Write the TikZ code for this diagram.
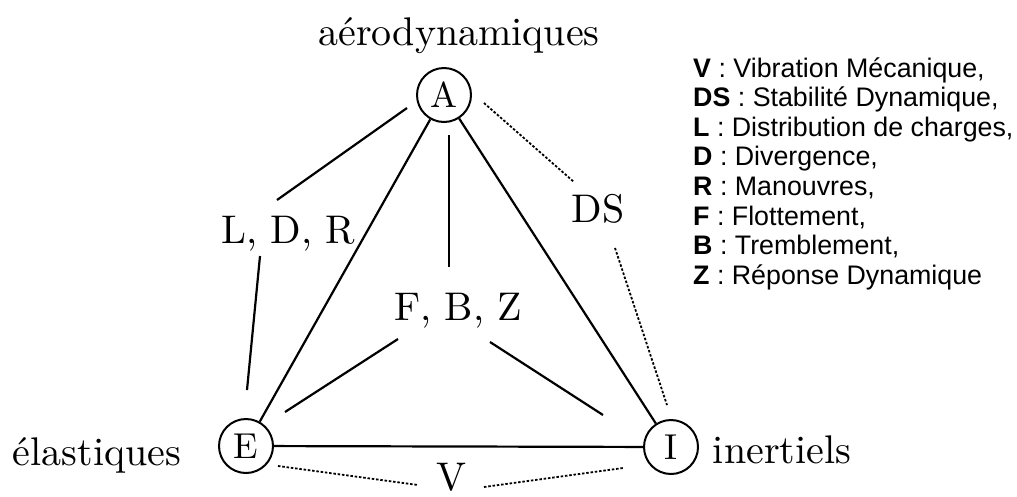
\documentclass[tikz,border=0pt]{standalone}
\usepackage{fontspec}
\usepackage{graphicx}
\newfontfamily\legfont{Liberation Sans}
\newcommand\bigtxt[2][4]{\scalebox{#1}{\fontsize{10}{12}\selectfont #2}}
\begin{document}
\begin{tikzpicture}[x=1pt,y=-1pt,
  circ/.style={draw, circle, minimum size=54pt, inner sep=0pt, line width=2pt},
  lbl/.style={inner sep=0pt, anchor=base},
  leg/.style={inner sep=0pt, anchor=base west, font=\legfont\fontsize{26.8}{30}\selectfont},
  conn/.style={line width=2.2pt},
  dot/.style={line width=1.8pt, dash pattern=on 2.5pt off 1.8pt}]
\useasboundingbox (0,0) rectangle (1017,496);
% main nodes
\node[circ] (A) at (444,95) {\bigtxt[3.6]{A}};
\node[circ] (E) at (246,446) {\bigtxt[3.6]{E}};
\node[circ] (I) at (671,447) {\bigtxt[3.6]{I}};
% labels
\node[lbl] (aero) at (459,45) {\bigtxt{aérodynamiques}};
\node[lbl] (elas) at (97,465) {\bigtxt{élastiques}};
\node[lbl] (iner) at (782,463) {\bigtxt{inertiels}};
\node[lbl] (ldr) at (288,243) {\bigtxt{L, D, R}};
\node[lbl] (fbz) at (458,320) {\bigtxt{F, B, Z}};
\node[lbl] (ds) at (598,222) {\bigtxt{DS}};
\node[lbl] (v) at (451,490) {\bigtxt{V}};
% connector end points
\coordinate (A-ldr) at (407,108); \coordinate (ldr-A) at (277,200);
\coordinate (ldr-E) at (260,256); \coordinate (E-ldr) at (247,390);
\coordinate (A-fbz) at (449,135); \coordinate (fbz-A) at (449,267);
\coordinate (fbz-E) at (398,339); \coordinate (E-fbz) at (285,412);
\coordinate (fbz-I) at (490,342); \coordinate (I-fbz) at (603,415);
\coordinate (A-ds) at (484,103); \coordinate (ds-A) at (574,182);
\coordinate (ds-I) at (615,248); \coordinate (I-ds) at (667,405);
\coordinate (E-v) at (278,466); \coordinate (v-E) at (418,485);
\coordinate (v-I) at (484,487); \coordinate (I-v) at (623,468);
% solid triangle
\draw[conn] (A) -- (E);
\draw[conn] (A) -- (I);
\draw[conn] (E) -- (I);
% label connectors
\draw[conn] (A-ldr) -- (ldr-A);
\draw[conn] (ldr-E) -- (E-ldr);
\draw[conn] (A-fbz) -- (fbz-A);
\draw[conn] (fbz-E) -- (E-fbz);
\draw[conn] (fbz-I) -- (I-fbz);
\draw[dot] (A-ds) -- (ds-A);
\draw[dot] (ds-I) -- (I-ds);
\draw[dot] (E-v) -- (v-E);
\draw[dot] (v-I) -- (I-v);
% legend
\node[leg] (l1) at (693,77) {\textbf{V} : Vibration Mécanique,};
\node[leg] (l2) at (693,106.6) {\textbf{DS} : Stabilité Dynamique,};
\node[leg] (l3) at (693,136.2) {\textbf{L} : Distribution de charges,};
\node[leg] (l4) at (693,165.8) {\textbf{D} : Divergence,};
\node[leg] (l5) at (693,195.4) {\textbf{R} : Manouvres,};
\node[leg] (l6) at (693,225) {\textbf{F} : Flottement,};
\node[leg] (l7) at (693,254.6) {\textbf{B} : Tremblement,};
\node[leg] (l8) at (693,284.2) {\textbf{Z} : Réponse Dynamique};
\end{tikzpicture}
\end{document}
